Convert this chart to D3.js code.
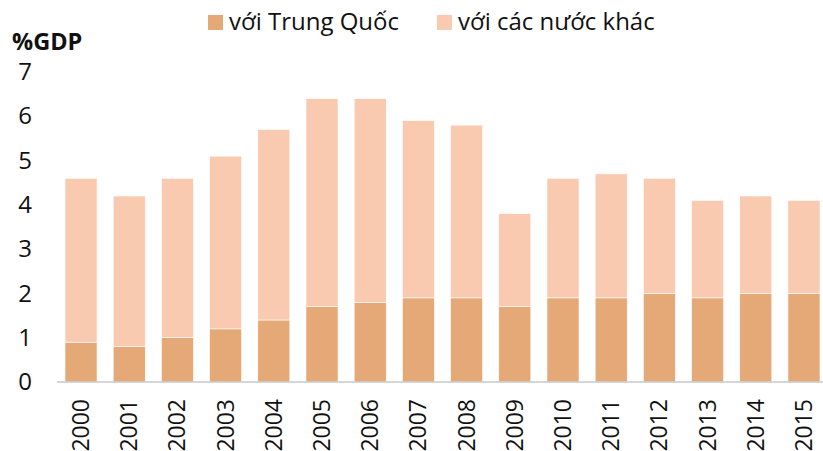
<!DOCTYPE html>
<html>
<head>
<meta charset="utf-8">
<script src="https://cdn.jsdelivr.net/npm/d3@7"></script>
<style>
  body { margin: 0; background: #fff; }
  text { font-family: "Open Sans", "Noto Sans", sans-serif; fill: #111; }
</style>
</head>
<body>
<svg id="chart" width="823" height="451"></svg>
<script>
const years = ["2000","2001","2002","2003","2004","2005","2006","2007","2008","2009","2010","2011","2012","2013","2014","2015"];
const withChina = [0.9, 0.8, 1.0, 1.2, 1.4, 1.7, 1.8, 1.9, 1.9, 1.7, 1.9, 1.9, 2.0, 1.9, 2.0, 2.0];
const withOthers = [3.7, 3.4, 3.6, 3.9, 4.3, 4.7, 4.6, 4.0, 3.9, 2.1, 2.7, 2.8, 2.6, 2.2, 2.2, 2.1];
const yTicks = [0, 1, 2, 3, 4, 5, 6, 7];
const seriesNames = ["với Trung Quốc", "với các nước khác"];
const colors = ["#e5a877", "#f9cab0"];

const svg = d3.select("#chart");

const rows = years.map((y, i) => ({ year: y, china: withChina[i], others: withOthers[i] }));
const stacked = d3.stack().keys(["china", "others"])(rows);

const xScale = d3.scaleBand()
  .domain(years)
  .range([57, 828])
  .paddingInner(0.335)
  .paddingOuter(0.166);

const yScale = d3.scaleLinear()
  .domain([0, 7])
  .range([382, 72]);

// bars
svg.append("g")
  .selectAll("g")
  .data(stacked)
  .enter()
  .append("g")
  .attr("fill", (d, i) => colors[i])
  .selectAll("rect")
  .data(d => d)
  .enter()
  .append("rect")
  .attr("x", d => xScale(d.data.year))
  .attr("y", d => yScale(d[1]))
  .attr("width", xScale.bandwidth())
  .attr("height", d => yScale(d[0]) - yScale(d[1]))
  .style("stroke", "#fff")
  .style("stroke-width", 0.6);

// baseline
svg.append("line")
  .attr("x1", 57).attr("x2", 823)
  .attr("y1", yScale(0)).attr("y2", yScale(0))
  .style("stroke", "#c8c8c8")
  .style("stroke-width", 1.5);

// y axis labels
const yAxis = d3.axisLeft(yScale).tickValues(yTicks).tickFormat(d3.format("d")).tickSize(0).tickPadding(0);
const yG = svg.append("g").attr("transform", "translate(32,0)").call(yAxis);
yG.select(".domain").remove();
yG.selectAll("text")
  .style("font-family", "'Open Sans', sans-serif")
  .style("font-size", "24px")
  .style("fill", "#111");

// x axis labels, rotated
const xAxis = d3.axisBottom(xScale).tickSize(0).tickPadding(0);
const xG = svg.append("g").attr("transform", "translate(0,399)").call(xAxis);
xG.select(".domain").remove();
xG.selectAll("text")
  .attr("transform", "rotate(-90)")
  .attr("text-anchor", "end")
  .attr("x", 0)
  .attr("y", 0)
  .attr("dy", "0.35em")
  .style("font-family", "'Open Sans', sans-serif")
  .style("font-size", "23px")
  .style("fill", "#111");

// unit label
svg.append("text")
  .attr("x", 12).attr("y", 50)
  .style("font-size", "23.5px")
  .style("font-weight", "bold")
  .text("%GDP");

// legend
const legendX = [208, 437];
const legend = svg.append("g");
seriesNames.forEach((name, i) => {
  legend.append("rect")
    .attr("x", legendX[i]).attr("y", 15)
    .attr("width", 15).attr("height", 15)
    .attr("fill", colors[i]);
  legend.append("text")
    .attr("x", legendX[i] + 21).attr("y", 30)
    .style("font-size", "24px")
    .text(name);
});
</script>
</body>
</html>
